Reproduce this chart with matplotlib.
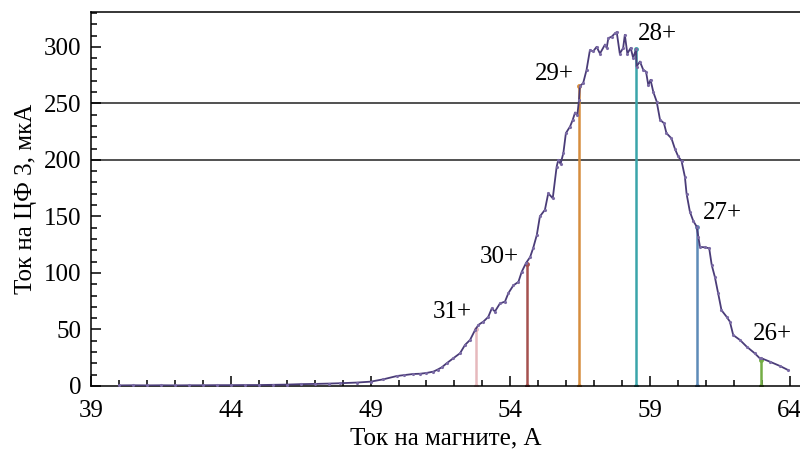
import matplotlib
matplotlib.use("Agg")
import matplotlib.pyplot as plt
from matplotlib.ticker import MultipleLocator, FixedLocator

plt.rcParams['font.family'] = ['Liberation Serif', 'DejaVu Serif']

# Magnet current (A) and current on FC3 (uA)
magnet_current = [40.0, 40.5, 41.0, 41.5, 42.0, 42.5, 43.0, 43.5, 44.0, 44.5, 45.0, 45.5,
                  46.0, 46.5, 47.0, 47.5, 47.9, 48.5, 49.0, 49.46, 49.94, 50.2, 50.53,
                  50.77, 51.0, 51.25, 51.4, 51.55, 51.72, 51.96, 52.2, 52.38, 52.56, 52.74,
                  52.86, 53.04, 53.21, 53.34, 53.45, 53.63, 53.81, 53.93, 54.11, 54.29,
                  54.41, 54.56, 54.71, 54.82, 54.95, 55.06, 55.24, 55.36, 55.52, 55.66,
                  55.72, 55.80, 55.90, 55.99, 56.14, 56.23, 56.32, 56.40, 56.46, 56.49,
                  56.61, 56.73, 56.85, 56.97, 57.09, 57.21, 57.39, 57.45, 57.51, 57.63,
                  57.75, 57.81, 57.92, 58.04, 58.10, 58.19, 58.31, 58.40, 58.50, 58.52,
                  58.64, 58.76, 58.86, 58.94, 59.02, 59.12, 59.24, 59.36, 59.50, 59.59,
                  59.77, 59.89, 60.01, 60.13, 60.25, 60.31, 60.43, 60.55, 60.67, 60.73,
                  60.79, 60.97, 61.12, 61.21, 61.32, 61.44, 61.56, 61.74, 61.86, 61.98,
                  62.22, 62.46, 62.75, 62.93, 62.99, 63.29, 63.65, 63.95]
fc3_current = [0.5, 0.6, 0.5, 0.6, 0.5, 0.6, 0.6, 0.7, 0.7, 0.8, 0.8, 1.0,
               1.2, 1.6, 1.8, 2.1, 2.4, 3.0, 3.8, 5.9, 8.8, 9.6, 10.6,
               10.8, 11.5, 12.7, 14.5, 16.5, 20.0, 24.5, 28.9, 36.3, 40.7, 49.5,
               54.0, 57.0, 61.0, 68.7, 65.8, 73.0, 74.6, 82.0, 89.0, 92.0,
               101.0, 108.6, 114.0, 122.0, 133.6, 150.0, 155.8, 170.5, 166.0, 194.0,
               200.0, 196.5, 206.0, 223.6, 229.5, 235.0, 241.9, 239.8, 253.0, 265.0,
               268.0, 279.6, 297.0, 296.0, 300.0, 294.0, 302.0, 299.0, 307.7, 309.0,
               312.0, 313.0, 294.0, 299.0, 310.6, 294.0, 299.0, 290.0, 298.0, 282.5,
               287.0, 279.6, 278.0, 266.0, 270.8, 260.0, 251.6, 235.4, 232.5, 223.6,
               219.0, 210.0, 203.0, 199.0, 185.0, 170.0, 154.0, 146.0, 141.0, 132.0,
               123.0, 122.6, 121.8, 107.0, 96.7, 82.0, 67.0, 61.3, 56.9, 45.0,
               40.7, 34.8, 28.9, 24.5, 24.5, 21.5, 17.7, 14.0]

# Charge state markers
charge_labels = ['31+', '30+', '29+', '28+', '27+', '26+']
charge_x = [52.79, 54.60, 56.47, 58.49, 60.67, 62.97]
charge_top = [50, 108, 265, 298, 141, 23]
charge_colors = ['#e6b9bd', '#a5514f', '#d68d3e', '#3aa5aa', '#5d8bb8', '#74ad45']
label_x = [51.93, 53.6, 55.58, 59.27, 61.59, 63.38]
label_y = [65, 114, 276, 311, 153, 46]

hlines_y = [200, 250]
x_ticks = [39, 44, 49, 54, 59, 64]

fig = plt.figure(figsize=(8.0, 4.53), dpi=100)
ax = fig.add_axes([0.114, 0.148, 0.886, 0.826])

for y in hlines_y:
    ax.axhline(y, color='#222222', lw=1.1, zorder=1)

for x, top, c in zip(charge_x, charge_top, charge_colors):
    ax.plot([x, x], [0, top], color=c, lw=1.8, marker='o', ms=2.5, zorder=2)

ax.plot(magnet_current, fc3_current, color='#4a3c78', lw=1.3, marker='.', ms=2.5,
        mfc='#7a6aa5', mec='#7a6aa5', zorder=3)

for lab, lx, ly in zip(charge_labels, label_x, label_y):
    ax.text(lx, ly, lab, ha='center', va='center', fontsize=18, zorder=4)

ax.set_xlim(39, 64.37)
ax.set_ylim(0, 331)
ax.xaxis.set_major_locator(FixedLocator(x_ticks))
ax.xaxis.set_minor_locator(FixedLocator(list(range(39, 65))))
ax.yaxis.set_major_locator(MultipleLocator(50))
ax.yaxis.set_minor_locator(MultipleLocator(10))
ax.tick_params(which='both', direction='in', top=False, right=False, width=1.1, labelsize=18)
ax.tick_params(which='major', length=7.5)
ax.tick_params(which='minor', length=4.5)
ax.tick_params(axis='x', pad=10)
ax.tick_params(axis='y', pad=7)
ax.spines['right'].set_visible(False)
for s in ['left', 'bottom', 'top']:
    ax.spines[s].set_linewidth(1.1)

ax.set_xlabel('Ток на магните, А', fontsize=18, labelpad=4)
ax.set_ylabel('Ток на ЦФ 3, мкА', fontsize=18, labelpad=5)

fig.savefig('out.png', dpi=100)
